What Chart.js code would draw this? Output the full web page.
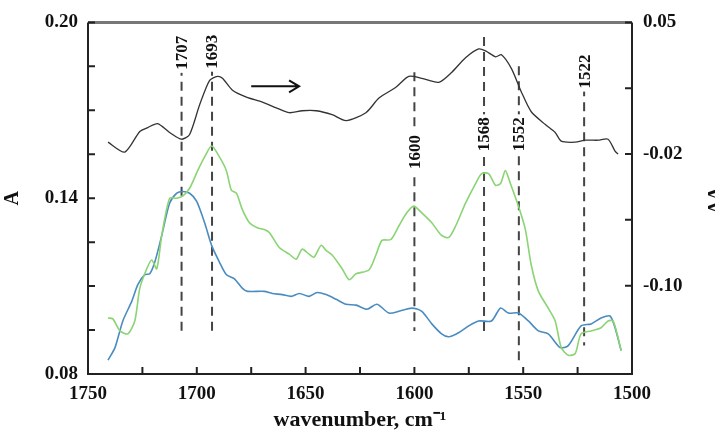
<!DOCTYPE html>
<html>
<head>
<meta charset="utf-8">
<script src="https://cdn.jsdelivr.net/npm/chart.js@4/dist/chart.umd.min.js"></script>
<style>
  body { margin: 0; background: #fff; }
  #wrap { width: 715px; height: 438px; }
</style>
</head>
<body>
<div id="wrap"><canvas id="grafico"></canvas></div>
<script>
// absorbance spectra (left axis, A)
const blueWn = [1740.8, 1737.6, 1734.0, 1729.9, 1727.1, 1723.9, 1721.6, 1719.3, 1716.1, 1712.5, 1709.2, 1706.5, 1703.3, 1700.1, 1696.4, 1693.2, 1689.6, 1686.4, 1682.7, 1679.0, 1676.7, 1669.0, 1665.3, 1660.7, 1656.6, 1652.9, 1648.4, 1644.7, 1640.6, 1636.0, 1631.4, 1626.8, 1621.8, 1617.2, 1611.7, 1607.1, 1601.2, 1596.6, 1592.0, 1587.5, 1584.2, 1579.7, 1575.1, 1570.5, 1564.6, 1560.4, 1556.8, 1552.2, 1547.6, 1543.0, 1538.5, 1533.0, 1529.3, 1523.4, 1518.8, 1514.2, 1510.1, 1507.8, 1505.0];
const blueA = [0.0847, 0.0890, 0.0981, 0.1048, 0.1105, 0.1139, 0.1142, 0.1182, 0.1273, 0.1383, 0.1417, 0.1423, 0.1417, 0.1390, 0.1316, 0.1239, 0.1182, 0.1139, 0.1125, 0.1092, 0.1082, 0.1082, 0.1075, 0.1071, 0.1065, 0.1075, 0.1065, 0.1078, 0.1071, 0.1055, 0.1038, 0.1035, 0.1021, 0.1038, 0.1008, 0.1014, 0.1025, 0.1014, 0.0971, 0.0937, 0.0927, 0.0941, 0.0964, 0.0981, 0.0981, 0.1025, 0.1008, 0.1008, 0.0981, 0.0947, 0.0937, 0.0890, 0.0897, 0.0964, 0.0971, 0.0991, 0.0998, 0.0958, 0.0880];

const greenWn = [1740.8, 1738.6, 1735.3, 1731.7, 1728.5, 1726.2, 1723.0, 1720.7, 1718.4, 1716.1, 1712.5, 1709.2, 1706.5, 1703.3, 1699.6, 1696.4, 1693.2, 1689.6, 1686.4, 1684.1, 1681.8, 1679.0, 1675.8, 1672.2, 1669.0, 1666.7, 1662.1, 1657.5, 1654.3, 1651.6, 1648.4, 1646.1, 1642.9, 1640.6, 1637.8, 1633.2, 1630.0, 1626.8, 1620.9, 1617.7, 1614.9, 1610.8, 1607.1, 1603.5, 1600.3, 1596.6, 1592.0, 1587.5, 1584.2, 1581.0, 1576.5, 1571.9, 1569.1, 1565.9, 1562.7, 1560.4, 1558.2, 1555.9, 1552.2, 1549.0, 1546.3, 1543.0, 1538.5, 1535.3, 1532.5, 1529.3, 1526.1, 1523.4, 1518.8, 1514.2, 1511.0, 1508.7, 1506.4, 1505.0];
const greenA = [0.0991, 0.0988, 0.0947, 0.0937, 0.0981, 0.1092, 0.1159, 0.1189, 0.1159, 0.1273, 0.1400, 0.1400, 0.1407, 0.1434, 0.1494, 0.1541, 0.1578, 0.1541, 0.1494, 0.1427, 0.1417, 0.1360, 0.1316, 0.1299, 0.1293, 0.1283, 0.1232, 0.1209, 0.1192, 0.1226, 0.1209, 0.1199, 0.1239, 0.1222, 0.1206, 0.1159, 0.1122, 0.1142, 0.1155, 0.1206, 0.1256, 0.1259, 0.1306, 0.1350, 0.1373, 0.1350, 0.1316, 0.1273, 0.1266, 0.1306, 0.1383, 0.1450, 0.1484, 0.1484, 0.1444, 0.1450, 0.1494, 0.1450, 0.1373, 0.1293, 0.1172, 0.1082, 0.1025, 0.0981, 0.0890, 0.0864, 0.0870, 0.0937, 0.0947, 0.0958, 0.0981, 0.0981, 0.0924, 0.0880];

// difference spectrum (right axis, dA)
const diffWn = [1740.8, 1733.1, 1726.2, 1722.5, 1718.0, 1712.5, 1707.0, 1703.3, 1698.7, 1694.1, 1690.5, 1688.2, 1683.6, 1677.2, 1669.9, 1663.5, 1657.5, 1651.6, 1645.1, 1637.8, 1631.4, 1622.3, 1616.3, 1608.5, 1602.6, 1596.6, 1588.8, 1582.9, 1576.5, 1570.5, 1567.3, 1562.7, 1560.0, 1555.4, 1550.8, 1546.3, 1539.8, 1535.3, 1532.5, 1526.1, 1521.5, 1515.6, 1511.0, 1507.8, 1506.4];
const diffDA = [-0.0128, -0.0188, -0.0063, -0.0039, -0.0015, -0.0069, -0.0110, -0.0081, 0.0099, 0.0248, 0.0272, 0.0260, 0.0188, 0.0146, 0.0116, 0.0081, 0.0051, 0.0063, 0.0063, 0.0039, 0.0003, 0.0051, 0.0140, 0.0206, 0.0272, 0.0260, 0.0236, 0.0296, 0.0385, 0.0439, 0.0427, 0.0391, 0.0403, 0.0319, 0.0176, 0.0057, -0.0021, -0.0069, -0.0122, -0.0128, -0.0116, -0.0116, -0.0110, -0.0182, -0.0200];

// axis ticks
const leftTicks = [0.08, 0.095, 0.11, 0.125, 0.14, 0.155, 0.17, 0.185, 0.20];
const leftTickLabels = ['0.08', '', '', '', '0.14', '', '', '', '0.20'];
const rightTicks = [-0.10, -0.06, -0.02, 0.02, 0.06];
const rightTickLabels = ['-0.10', '', '-0.02', '', '0.05'];
const xMinorTicks = [1725, 1700, 1675, 1650, 1625, 1600, 1575, 1550, 1525];

// marked bands
const peakWn = [1707, 1693, 1600, 1568, 1552, 1522];
const peakTop = [0.190, 0.190, 0.183, 0.195, 0.185, 0.183];
const peakBottom = [0.0947, 0.0947, 0.0947, 0.0947, 0.084, 0.0897];
const peakLabelA = [0.1896, 0.190, 0.1558, 0.1618, 0.1618, 0.1832];

// scan direction arrow (x in cm-1, y in A)
const arrowWn = [1675, 1653];
const arrowA = 0.1782;

const serif = '"Liberation Serif", "Times New Roman", serif';
const pts = (xs, ys) => xs.map((x, i) => ({ x: x, y: ys[i] }));

const extras = {
  id: 'extras',
  beforeDatasetsDraw(chart) {
    const { ctx } = chart;
    const xs = chart.scales.x, ys = chart.scales.y;
    ctx.save();
    ctx.strokeStyle = '#444';
    ctx.lineWidth = 2;
    ctx.setLineDash([9, 6]);
    peakWn.forEach((w, i) => {
      const px = xs.getPixelForValue(w);
      ctx.beginPath();
      ctx.moveTo(px, ys.getPixelForValue(peakTop[i]));
      ctx.lineTo(px, ys.getPixelForValue(peakBottom[i]));
      ctx.stroke();
    });
    ctx.setLineDash([]);
    ctx.font = 'bold 17px ' + serif;
    ctx.textAlign = 'center';
    ctx.textBaseline = 'middle';
    peakWn.forEach((w, i) => {
      const px = xs.getPixelForValue(w);
      const py = ys.getPixelForValue(peakLabelA[i]);
      ctx.save();
      ctx.translate(px, py);
      ctx.rotate(-Math.PI / 2);
      ctx.fillStyle = '#fff';
      ctx.fillRect(-20, -8, 40, 16);
      ctx.fillStyle = '#111';
      ctx.fillText(String(w), 0, 1);
      ctx.restore();
    });
    // arrow
    const ax0 = xs.getPixelForValue(arrowWn[0]);
    const ax1 = xs.getPixelForValue(arrowWn[1]);
    const ay = ys.getPixelForValue(arrowA);
    ctx.strokeStyle = '#111';
    ctx.lineWidth = 2;
    ctx.beginPath();
    ctx.moveTo(ax0, ay);
    ctx.lineTo(ax1, ay);
    ctx.moveTo(ax1 - 10, ay - 6);
    ctx.lineTo(ax1, ay);
    ctx.lineTo(ax1 - 10, ay + 6);
    ctx.stroke();
    ctx.restore();
  },
  afterDraw(chart) {
    const { ctx, chartArea: a } = chart;
    const xs = chart.scales.x, ys = chart.scales.y, y2 = chart.scales.y2;
    ctx.save();
    // frame
    ctx.strokeStyle = '#777';
    ctx.lineWidth = 3;
    ctx.beginPath();
    ctx.moveTo(a.left, a.top);
    ctx.lineTo(a.right, a.top);
    ctx.stroke();
    ctx.strokeStyle = '#222';
    ctx.lineWidth = 2;
    ctx.beginPath();
    ctx.moveTo(a.left, a.top);
    ctx.lineTo(a.left, a.bottom);
    ctx.lineTo(a.right, a.bottom);
    ctx.lineTo(a.right, a.top);
    ctx.stroke();
    // inward ticks
    ctx.beginPath();
    leftTicks.forEach(v => {
      const py = ys.getPixelForValue(v);
      ctx.moveTo(a.left, py);
      ctx.lineTo(a.left + 7, py);
    });
    rightTicks.forEach(v => {
      const py = y2.getPixelForValue(v);
      ctx.moveTo(a.right, py);
      ctx.lineTo(a.right - 7, py);
    });
    xMinorTicks.forEach(v => {
      const px = xs.getPixelForValue(v);
      ctx.moveTo(px, a.bottom);
      ctx.lineTo(px, a.bottom - 7);
    });
    ctx.stroke();
    // right axis title, cut by the edge
    ctx.fillStyle = '#111';
    ctx.font = 'bold 20px ' + serif;
    ctx.textAlign = 'center';
    ctx.textBaseline = 'middle';
    ctx.translate(717, 200);
    ctx.rotate(-Math.PI / 2);
    ctx.fillText('ΔA', 0, 0);
    ctx.restore();
  }
};

const config = {
  type: 'line',
  data: {
    datasets: [
      {
        label: 'A green',
        data: pts(greenWn, greenA),
        borderColor: '#8ad474',
        borderWidth: 1.6,
        yAxisID: 'y'
      },
      {
        label: 'A blue',
        data: pts(blueWn, blueA),
        borderColor: '#4a8cc0',
        borderWidth: 1.6,
        yAxisID: 'y'
      },
      {
        label: 'dA',
        data: pts(diffWn, diffDA),
        borderColor: '#333',
        borderWidth: 1.3,
        yAxisID: 'y2'
      }
    ]
  },
  options: {
    responsive: true,
    maintainAspectRatio: false,
    animation: false,
    elements: { point: { radius: 0 }, line: { tension: 0.25 } },
    layout: { padding: { top: 16, left: 0, right: 0, bottom: 0 } },
    plugins: { legend: { display: false }, tooltip: { enabled: false } },
    scales: {
      x: {
        type: 'linear',
        reverse: true,
        min: 1500,
        max: 1750,
        grid: { display: false, drawTicks: false },
        border: { display: false },
        ticks: {
          stepSize: 50,
          padding: 9,
          color: '#111',
          font: { family: serif, size: 19, weight: 'bold' },
          callback: v => String(v)
        },
        title: { display: true, text: 'wavenumber, cm⁻¹', color: '#111', padding: { top: 0, bottom: 4 }, font: { family: serif, size: 22, weight: 'bold' } },
        afterFit: s => { s.height = 64; }
      },
      y: {
        position: 'left',
        min: 0.08,
        max: 0.20,
        grid: { display: false, drawTicks: false },
        border: { display: false },
        afterBuildTicks: s => { s.ticks = leftTicks.map(v => ({ value: v })); },
        ticks: {
          autoSkip: false,
          padding: 10,
          color: '#111',
          font: { family: serif, size: 19, weight: 'bold' },
          callback: (v, i) => leftTickLabels[i]
        },
        title: { display: true, text: 'A', color: '#111', padding: { top: 1, bottom: 0 }, font: { family: serif, size: 20, weight: 'bold' } },
        afterFit: s => { s.width = 88; }
      },
      y2: {
        position: 'right',
        min: -0.1537,
        max: 0.06,
        grid: { display: false, drawTicks: false },
        border: { display: false },
        afterBuildTicks: s => { s.ticks = rightTicks.map(v => ({ value: v })); },
        ticks: {
          autoSkip: false,
          padding: 11,
          color: '#111',
          font: { family: serif, size: 19, weight: 'bold' },
          callback: (v, i) => rightTickLabels[i]
        },
        afterFit: s => { s.width = 83; }
      }
    }
  },
  plugins: [extras]
};

const ctx = document.getElementById('grafico').getContext('2d');
new Chart(ctx, config);
</script>
</body>
</html>
